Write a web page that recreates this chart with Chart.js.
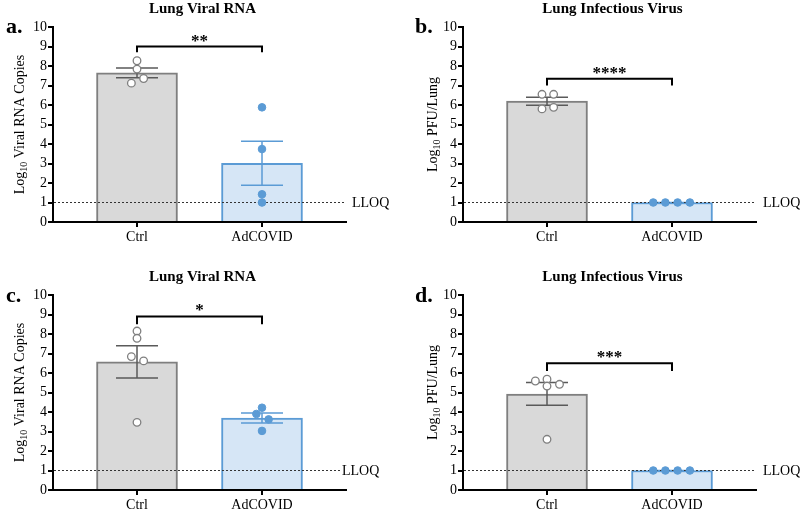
<!DOCTYPE html>
<html>
<head>
<meta charset="utf-8">
<script src="https://cdn.jsdelivr.net/npm/chart.js@4/dist/chart.umd.min.js"></script>
<style>
  html, body { margin: 0; padding: 0; background: #fff; }
  #wrap { position: relative; width: 800px; height: 511px; overflow: hidden; }
  canvas { position: absolute; }
</style>
</head>
<body>
<div id="wrap">
  <canvas id="chartA" width="400" height="255" style="left:0;top:0"></canvas>
  <canvas id="chartB" width="400" height="255" style="left:400px;top:0"></canvas>
  <canvas id="chartC" width="400" height="256" style="left:0;top:255px"></canvas>
  <canvas id="chartD" width="400" height="256" style="left:400px;top:255px"></canvas>
</div>
<script>
// Data (log10 values per animal)
const categories = ['Ctrl', 'AdCOVID'];
const titles = ['Lung Viral RNA', 'Lung Infectious Virus', 'Lung Viral RNA', 'Lung Infectious Virus'];
const letters = ['a.', 'b.', 'c.', 'd.'];
const yLabels = [' Viral RNA Copies', ' PFU/Lung', ' Viral RNA Copies', ' PFU/Lung'];
const yTicks = [0, 1, 2, 3, 4, 5, 6, 7, 8, 9, 10];
const lloq = 1;

const aCtrl = [8.27, 7.84, 7.36, 7.12];
const aAdCOVID = [5.88, 3.74, 1.42, 1.0];
const bCtrl = [6.55, 6.55, 5.80, 5.88];
const bAdCOVID = [1, 1, 1, 1];
const cCtrl = [8.15, 7.78, 6.84, 6.62, 3.47];
const cAdCOVID = [4.22, 3.90, 3.62, 3.03];
const dCtrl = [5.59, 5.68, 5.33, 5.42, 2.60];
const dAdCOVID = [1, 1, 1, 1];

// horizontal scatter of the dots around each category
const aCtrlJitter = [0, 0, 0.053, -0.045];
const aAdJitter = [0, 0, 0, 0];
const bCtrlJitter = [-0.04, 0.053, -0.04, 0.053];
const bAdJitter = [-0.15, -0.053, 0.045, 0.143];
const cCtrlJitter = [0, 0, -0.045, 0.053, 0];
const cAdJitter = [0, -0.045, 0.053, 0];
const dCtrlJitter = [-0.093, 0, 0, 0.10, 0];
const dAdJitter = [-0.15, -0.053, 0.045, 0.143];

// significance brackets
const stars = ['**', '****', '*', '***'];
const bracketTops = [9.0, 7.35, 8.9, 6.5];
const bracketDrops = [8.7, 7.0, 8.5, 6.1];

const FONT = "'Liberation Serif', 'Times New Roman', serif";
Chart.defaults.font.family = FONT;
Chart.defaults.font.size = 14;
Chart.defaults.color = '#000';

const ctrlFill = '#d9d9d9', ctrlLine = '#7f7f7f', ctrlErr = '#5a5a5a';
const adFill = '#d6e6f6', adLine = '#5b9bd5', adErr = '#5b9bd5';

function mean(v) { return v.reduce((s, x) => s + x, 0) / v.length; }
function sem(v) {
    const m = mean(v);
    const ss = v.reduce((s, x) => s + (x - m) * (x - m), 0);
    return Math.sqrt(ss / (v.length - 1)) / Math.sqrt(v.length);
}

const panels = [
    { id: 'chartA', ctrl: aCtrl, ad: aAdCOVID, cj: aCtrlJitter, aj: aAdJitter,
      area: { l: 53, r: 346, t: 27, b: 222 }, h: 255, titleY: 13, letterX: 6, letterY: 33, yLabX: 19, lloqX: 352, lloqEnd: 344 },
    { id: 'chartB', ctrl: bCtrl, ad: bAdCOVID, cj: bCtrlJitter, aj: bAdJitter,
      area: { l: 63, r: 356, t: 27, b: 222 }, h: 255, titleY: 13, letterX: 15, letterY: 33, yLabX: 32, lloqX: 363, lloqEnd: 356 },
    { id: 'chartC', ctrl: cCtrl, ad: cAdCOVID, cj: cCtrlJitter, aj: cAdJitter,
      area: { l: 53, r: 346, t: 40, b: 235 }, h: 256, titleY: 26, letterX: 6, letterY: 47, yLabX: 19, lloqX: 342, lloqEnd: 341 },
    { id: 'chartD', ctrl: dCtrl, ad: dAdCOVID, cj: dCtrlJitter, aj: dAdJitter,
      area: { l: 63, r: 356, t: 40, b: 235 }, h: 256, titleY: 26, letterX: 15, letterY: 47, yLabX: 32, lloqX: 363, lloqEnd: 356 }
];

const Y_W = 45, X_H = 28;

function extrasPlugin(p, k) {
    return {
        id: 'extras' + k,
        afterDatasetDraw(chart, args) {
            if (args.index !== 0) return;
            const { ctx, scales: { x, y } } = chart;
            const area = chart.chartArea;
            // error bars (mean ± SEM)
            [p.ctrl, p.ad].forEach((vals, i) => {
                const m = mean(vals), s = sem(vals);
                const cx = x.getPixelForValue(i);
                const yt = y.getPixelForValue(m + s), yb = y.getPixelForValue(m - s);
                ctx.save();
                ctx.strokeStyle = i === 0 ? ctrlErr : adErr;
                ctx.lineWidth = 1.5;
                ctx.beginPath();
                ctx.moveTo(cx, yt); ctx.lineTo(cx, yb);
                ctx.moveTo(cx - 21, yt); ctx.lineTo(cx + 21, yt);
                ctx.moveTo(cx - 21, yb); ctx.lineTo(cx + 21, yb);
                ctx.stroke();
                ctx.restore();
            });
            // LLOQ dotted line
            const ly = y.getPixelForValue(lloq);
            ctx.save();
            ctx.strokeStyle = '#333';
            ctx.lineWidth = 1;
            ctx.setLineDash([2, 2]);
            ctx.beginPath();
            ctx.moveTo(area.left + 1, ly); ctx.lineTo(p.lloqEnd, ly);
            ctx.stroke();
            ctx.restore();
        },
        afterDraw(chart) {
            const { ctx, scales: { x, y } } = chart;
            const area = chart.chartArea;
            ctx.save();
            // title
            ctx.fillStyle = '#000';
            ctx.font = 'bold 15px ' + FONT;
            ctx.textAlign = 'center';
            ctx.textBaseline = 'alphabetic';
            ctx.fillText(titles[k], (area.left + area.right) / 2 + 3, p.titleY);
            // panel letter
            ctx.font = 'bold 22px ' + FONT;
            ctx.textAlign = 'left';
            ctx.fillText(letters[k], p.letterX, p.letterY);
            // LLOQ label
            ctx.font = '14px ' + FONT;
            ctx.textBaseline = 'middle';
            ctx.fillText('LLOQ', p.lloqX, y.getPixelForValue(lloq) + 1);
            // y axis title with subscript
            ctx.translate(p.yLabX, (area.top + area.bottom) / 2);
            ctx.rotate(-Math.PI / 2);
            ctx.textBaseline = 'alphabetic';
            ctx.font = '14px ' + FONT;
            const w1 = ctx.measureText('Log').width, w3 = ctx.measureText(yLabels[k]).width;
            ctx.font = '10px ' + FONT;
            const w2 = ctx.measureText('10').width;
            let sx = -(w1 + w2 + w3) / 2;
            ctx.font = '14px ' + FONT;
            ctx.fillText('Log', sx, 5);
            ctx.font = '10px ' + FONT;
            ctx.fillText('10', sx + w1, 8);
            ctx.font = '14px ' + FONT;
            ctx.fillText(yLabels[k], sx + w1 + w2, 5);
            ctx.restore();
            // significance bracket
            const x0 = x.getPixelForValue(0), x1 = x.getPixelForValue(1);
            const yt = y.getPixelForValue(bracketTops[k]), yd = y.getPixelForValue(bracketDrops[k]);
            ctx.save();
            ctx.strokeStyle = '#000';
            ctx.lineWidth = 2;
            ctx.beginPath();
            ctx.moveTo(x0, yd); ctx.lineTo(x0, yt); ctx.lineTo(x1, yt); ctx.lineTo(x1, yd);
            ctx.stroke();
            ctx.fillStyle = '#000';
            ctx.font = 'bold 17px ' + FONT;
            ctx.textAlign = 'center';
            ctx.textBaseline = 'alphabetic';
            ctx.fillText(stars[k], (x0 + x1) / 2, yt - 1);
            ctx.restore();
        }
    };
}

function makePanel(p, k) {
    const ctx = document.getElementById(p.id).getContext('2d');
    const ctrlPts = p.ctrl.map((v, i) => ({ x: p.cj[i], y: v }));
    const adPts = p.ad.map((v, i) => ({ x: 1 + p.aj[i], y: v }));
    new Chart(ctx, {
        type: 'bar',
        data: {
            datasets: [
                {
                    type: 'bar',
                    data: [{ x: 0, y: mean(p.ctrl) }, { x: 1, y: mean(p.ad) }],
                    backgroundColor: [ctrlFill, adFill],
                    borderColor: [ctrlLine, adLine],
                    borderWidth: 2,
                    barThickness: 81,
                    order: 3
                },
                {
                    type: 'scatter',
                    data: ctrlPts,
                    pointRadius: 3.8,
                    pointBackgroundColor: '#ffffff',
                    pointBorderColor: ctrlLine,
                    pointBorderWidth: 1.3,
                    order: 2
                },
                {
                    type: 'scatter',
                    data: adPts,
                    pointRadius: 3.8,
                    pointBackgroundColor: adLine,
                    pointBorderColor: adLine,
                    pointBorderWidth: 1,
                    order: 1
                }
            ]
        },
        options: {
            responsive: false,
            animation: false,
            layout: {
                padding: {
                    left: p.area.l - Y_W,
                    right: 400 - p.area.r,
                    top: p.area.t,
                    bottom: p.h - p.area.b - X_H
                }
            },
            plugins: { legend: { display: false }, tooltip: { enabled: false } },
            scales: {
                x: {
                    type: 'linear',
                    min: -0.672,
                    max: 1.672,
                    offset: false,
                    afterBuildTicks: scale => { scale.ticks = [{ value: 0 }, { value: 1 }]; },
                    afterFit: scale => { scale.height = X_H; },
                    ticks: { callback: v => categories[v], padding: 2, color: '#000', font: { size: 14 } },
                    grid: { display: true, offset: false, drawOnChartArea: false, drawTicks: true, tickLength: 5, color: '#000', lineWidth: 2 },
                    border: { display: true, color: '#000', width: 2 }
                },
                y: {
                    min: 0,
                    max: 10,
                    afterBuildTicks: scale => { scale.ticks = yTicks.map(v => ({ value: v })); },
                    afterFit: scale => { scale.width = Y_W; },
                    ticks: { autoSkip: false, padding: 1, color: '#000', font: { size: 14 } },
                    grid: { display: true, drawOnChartArea: false, drawTicks: true, tickLength: 5, color: '#000', lineWidth: 2 },
                    border: { display: true, color: '#000', width: 2 }
                }
            }
        },
        plugins: [extrasPlugin(p, k)]
    });
}

panels.forEach(makePanel);
</script>
</body>
</html>
